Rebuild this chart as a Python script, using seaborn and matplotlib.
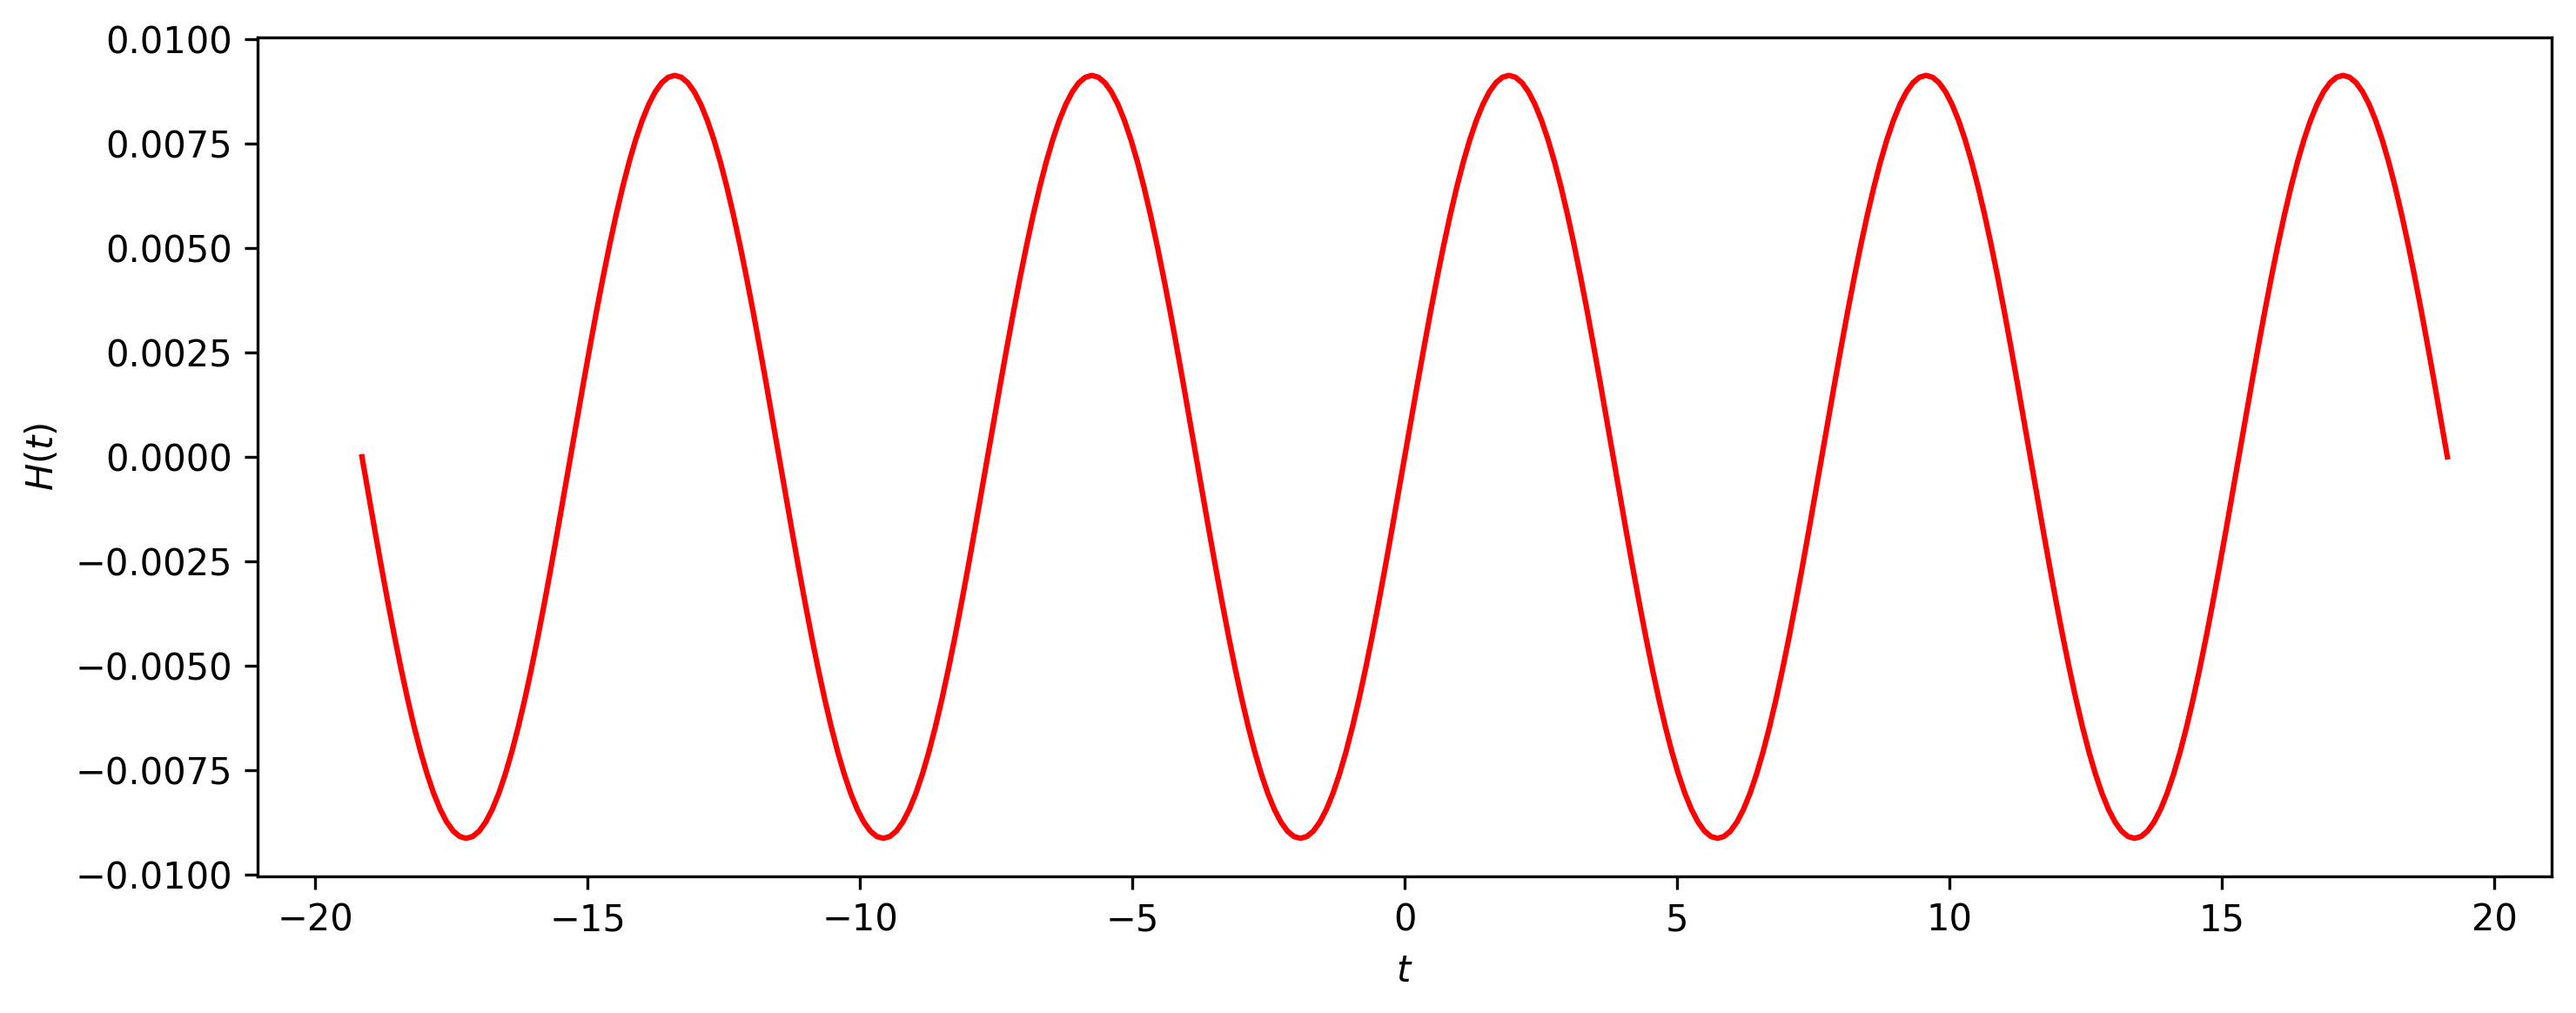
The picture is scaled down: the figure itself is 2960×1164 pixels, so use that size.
"""
plot.py
H(t) oscillation over t, redrawn with seaborn
"""

import numpy as np
import pandas as pd
import matplotlib
matplotlib.use('Agg')
import matplotlib.pyplot as plt
import seaborn as sns

# Values, H in units of 1e-4
# (one line = one half period, the last 0 closes the curve)
h_e4 = [
    0, -8.95, -17.81, -26.50, -34.94, -43.04, -50.72, -57.92, -64.56, -70.58, -75.91, -80.52, -84.35, -87.37, -89.55, -90.86,
    -91.3, -90.86, -89.55, -87.37, -84.35, -80.52, -75.91, -70.58, -64.56, -57.92, -50.72, -43.04, -34.94, -26.50, -17.81, -8.95,
    0, 8.95, 17.81, 26.50, 34.94, 43.04, 50.72, 57.92, 64.56, 70.58, 75.91, 80.52, 84.35, 87.37, 89.55, 90.86,
    91.3, 90.86, 89.55, 87.37, 84.35, 80.52, 75.91, 70.58, 64.56, 57.92, 50.72, 43.04, 34.94, 26.50, 17.81, 8.95,
    0, -8.95, -17.81, -26.50, -34.94, -43.04, -50.72, -57.92, -64.56, -70.58, -75.91, -80.52, -84.35, -87.37, -89.55, -90.86,
    -91.3, -90.86, -89.55, -87.37, -84.35, -80.52, -75.91, -70.58, -64.56, -57.92, -50.72, -43.04, -34.94, -26.50, -17.81, -8.95,
    0, 8.95, 17.81, 26.50, 34.94, 43.04, 50.72, 57.92, 64.56, 70.58, 75.91, 80.52, 84.35, 87.37, 89.55, 90.86,
    91.3, 90.86, 89.55, 87.37, 84.35, 80.52, 75.91, 70.58, 64.56, 57.92, 50.72, 43.04, 34.94, 26.50, 17.81, 8.95,
    0, -8.95, -17.81, -26.50, -34.94, -43.04, -50.72, -57.92, -64.56, -70.58, -75.91, -80.52, -84.35, -87.37, -89.55, -90.86,
    -91.3, -90.86, -89.55, -87.37, -84.35, -80.52, -75.91, -70.58, -64.56, -57.92, -50.72, -43.04, -34.94, -26.50, -17.81, -8.95,
    0, 8.95, 17.81, 26.50, 34.94, 43.04, 50.72, 57.92, 64.56, 70.58, 75.91, 80.52, 84.35, 87.37, 89.55, 90.86,
    91.3, 90.86, 89.55, 87.37, 84.35, 80.52, 75.91, 70.58, 64.56, 57.92, 50.72, 43.04, 34.94, 26.50, 17.81, 8.95,
    0, -8.95, -17.81, -26.50, -34.94, -43.04, -50.72, -57.92, -64.56, -70.58, -75.91, -80.52, -84.35, -87.37, -89.55, -90.86,
    -91.3, -90.86, -89.55, -87.37, -84.35, -80.52, -75.91, -70.58, -64.56, -57.92, -50.72, -43.04, -34.94, -26.50, -17.81, -8.95,
    0, 8.95, 17.81, 26.50, 34.94, 43.04, 50.72, 57.92, 64.56, 70.58, 75.91, 80.52, 84.35, 87.37, 89.55, 90.86,
    91.3, 90.86, 89.55, 87.37, 84.35, 80.52, 75.91, 70.58, 64.56, 57.92, 50.72, 43.04, 34.94, 26.50, 17.81, 8.95,
    0, -8.95, -17.81, -26.50, -34.94, -43.04, -50.72, -57.92, -64.56, -70.58, -75.91, -80.52, -84.35, -87.37, -89.55, -90.86,
    -91.3, -90.86, -89.55, -87.37, -84.35, -80.52, -75.91, -70.58, -64.56, -57.92, -50.72, -43.04, -34.94, -26.50, -17.81, -8.95,
    0, 8.95, 17.81, 26.50, 34.94, 43.04, 50.72, 57.92, 64.56, 70.58, 75.91, 80.52, 84.35, 87.37, 89.55, 90.86,
    91.3, 90.86, 89.55, 87.37, 84.35, 80.52, 75.91, 70.58, 64.56, 57.92, 50.72, 43.04, 34.94, 26.50, 17.81, 8.95,
    0,
]

# t runs evenly from the first to the last point of the curve
t_start, t_end = -19.14, 19.14

df = pd.DataFrame({
    't': np.linspace(t_start, t_end, len(h_e4)),
    'H': np.array(h_e4) * 1e-4,
})

fig = plt.figure(figsize=(2961 / 300, 1164 / 300), dpi=300)
ax = fig.add_axes([0.1, 0.1349, 0.8902, 0.8282])

sns.lineplot(data=df, x='t', y='H', color='red', linewidth=1.5, ax=ax,
             sort=False, estimator=None)

ax.set_xlabel('$t$')
ax.set_ylabel('$H(t)$')
ax.set_ylim(-0.01004, 0.01004)
ax.set_yticks(np.arange(-0.01, 0.0101, 0.0025))

fig.savefig('out.png', dpi=300)
plt.close(fig)
print("Saved: out.png")
